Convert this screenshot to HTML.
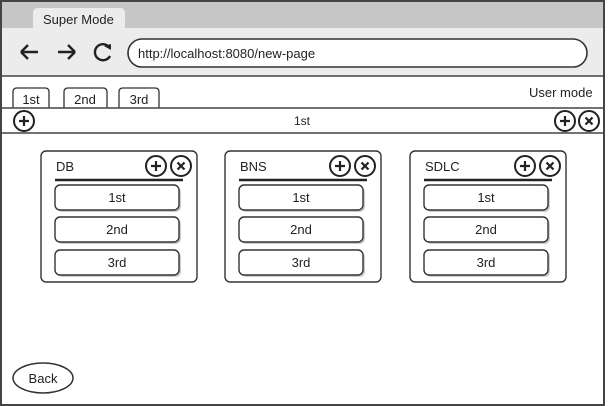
<!DOCTYPE html>
<html><head><meta charset="utf-8"><style>
html,body{margin:0;padding:0;background:#fff;}
svg{display:block;font-family:"Liberation Sans",sans-serif;}
text{font-size:13px;fill:#222;}
</style></head><body>
<svg width="612" height="406" viewBox="0 0 612 406">
<defs>
<g id="plus"><circle r="10" fill="#fff" stroke="#222" stroke-width="2"/><path d="M-5 0H5M0 -5V5" stroke="#222" stroke-width="2.2"/></g>
<g id="xx"><circle r="10" fill="#fff" stroke="#222" stroke-width="2"/><path d="M-3.5 -3.5L3.5 3.5M3.5 -3.5L-3.5 3.5" stroke="#222" stroke-width="2.2"/></g>
<g id="card">
<rect x="0" y="0" width="156" height="131" rx="5" fill="#fff" stroke="#333" stroke-width="1.4"/>
<line x1="14" y1="29" x2="142" y2="29" stroke="#222" stroke-width="2.5"/>
<use href="#plus" x="115" y="15"/><use href="#xx" x="140" y="15"/>
<rect x="16" y="36" width="124" height="25" rx="5" fill="#ccc"/>
<rect x="14" y="34" width="124" height="25" rx="5" fill="#fff" stroke="#333" stroke-width="1.4"/>
<text x="76" y="51" text-anchor="middle">1st</text>
<rect x="16" y="68" width="124" height="25" rx="5" fill="#ccc"/>
<rect x="14" y="66" width="124" height="25" rx="5" fill="#fff" stroke="#333" stroke-width="1.4"/>
<text x="76" y="83" text-anchor="middle">2nd</text>
<rect x="16" y="101" width="124" height="25" rx="5" fill="#ccc"/>
<rect x="14" y="99" width="124" height="25" rx="5" fill="#fff" stroke="#333" stroke-width="1.4"/>
<text x="76" y="116" text-anchor="middle">3rd</text>
</g>
</defs>
<rect x="1" y="1" width="603" height="404" fill="#fff" stroke="#444" stroke-width="2"/>
<rect x="2" y="2" width="601" height="26" fill="#c6c6c6"/>
<rect x="2" y="28" width="601" height="48" fill="#ececec"/>
<path d="M33 28V13Q33 8 38 8H120Q125 8 125 13V28Z" fill="#ececec"/>
<text x="43" y="24">Super Mode</text>
<line x1="2" y1="76" x2="604" y2="76" stroke="#444" stroke-width="1.5"/>
<path d="M21 52H38M21 52L28 45M21 52L28 59" stroke="#222" stroke-width="2.4" fill="none"/>
<path d="M58 52H75M75 52L68 45M75 52L68 59" stroke="#222" stroke-width="2.4" fill="none"/>
<path d="M109 47A8 8 0 1 0 110 56" stroke="#222" stroke-width="2.4" fill="none"/>
<path d="M104 46L111 44L111 50Z" fill="#222"/>
<rect x="128" y="39" width="459" height="28" rx="14" fill="#fff" stroke="#333" stroke-width="1.6"/>
<text x="138" y="58">http://localhost:8080/new-page</text>
<text x="529" y="97">User mode</text>
<path d="M13 108V92Q13 88 17 88H45Q49 88 49 92V108" fill="#fff" stroke="#333" stroke-width="1.3"/>
<text x="31" y="104" text-anchor="middle">1st</text>
<path d="M64 108V92Q64 88 68 88H103Q107 88 107 92V108" fill="#fff" stroke="#333" stroke-width="1.3"/>
<text x="85" y="104" text-anchor="middle">2nd</text>
<path d="M119 108V92Q119 88 123 88H155Q159 88 159 92V108" fill="#fff" stroke="#333" stroke-width="1.3"/>
<text x="139" y="104" text-anchor="middle">3rd</text>
<line x1="0" y1="108" x2="604" y2="108" stroke="#444" stroke-width="1.5"/>
<line x1="2" y1="133" x2="604" y2="133" stroke="#444" stroke-width="1.5"/>
<use href="#plus" x="24" y="121"/>
<text x="302" y="125" text-anchor="middle" style="font-size:12px">1st</text>
<use href="#plus" x="565" y="121"/><use href="#xx" x="589" y="121"/>
<use href="#card" x="41" y="151"/><text x="56" y="171">DB</text>
<use href="#card" x="225" y="151"/><text x="240" y="171">BNS</text>
<use href="#card" x="410" y="151"/><text x="425" y="171">SDLC</text>
<ellipse cx="43" cy="378" rx="30" ry="15" fill="#fff" stroke="#333" stroke-width="1.5"/>
<text x="43" y="383" text-anchor="middle">Back</text>
</svg>
</body></html>
